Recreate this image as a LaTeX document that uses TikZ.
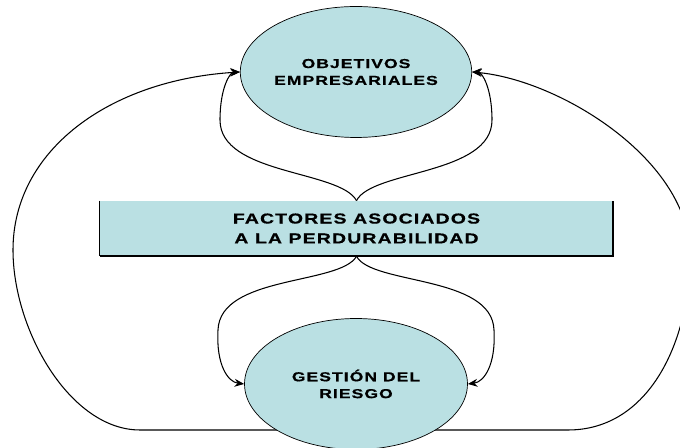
\documentclass[tikz,border=0pt]{standalone}
\usepackage{fontspec}
\newfontfamily\boxfont{Liberation Sans Bold}[FakeStretch=1.35,LetterSpace=8,FakeBold=0.6]
\usetikzlibrary{arrows.meta,backgrounds,shapes.geometric}
\definecolor{celeste}{RGB}{186,224,227}

\tikzset{
  goal/.style={ellipse,fill=celeste,draw=black,thin,minimum width=4.46cm,minimum height=2.62cm,
    align=center,inner sep=0pt,font=\boxfont\fontsize{7.4}{9.6}\selectfont},
  factor/.style={rectangle,fill=celeste,minimum width=10.26cm,minimum height=1.1cm,
    align=center,inner sep=0pt,font=\boxfont\fontsize{8.2}{11.3}\selectfont},
  link/.style={semithick,-{Stealth[length=5.5pt,width=4.5pt]}}
}

\begin{document}
\begin{tikzpicture}[x=0.02cm,y=-0.02cm]
\useasboundingbox (0,0) rectangle (680,448);

\node[goal](obj) at (356,72){OBJETIVOS\\EMPRESARIALES};
\node[factor](fac) at (356.5,228.5){FACTORES ASOCIADOS\\A LA PERDURABILIDAD};
\node[goal](ges) at (356,384){GESTI\'ON DEL\\RIESGO};

\draw[thin](fac.north west)--(fac.south west);
\draw[line width=1.1pt](fac.south west)--(fac.south east)--(fac.north east);

\coordinate (base) at (356,430);

\begin{scope}[on background layer]
%% outer loop
\draw[link](base)--(140,430) .. controls (70,430) and (13,330) .. (13,250)
  .. controls (13,150) and (110,80) .. (obj.west);
\draw[link](base)--(568,430) .. controls (650,430) and (690,340) .. (690,255)
  .. controls (690,160) and (560,80) .. (obj.east);

%% inner curves
\draw[link](fac.north) .. controls (340,170) and (220,175) .. (220,120)
  .. controls (220,88) and (230,72) .. (obj.west);
\draw[link](fac.north) .. controls (372,170) and (492,175) .. (492,120)
  .. controls (492,88) and (482,72) .. (obj.east);

\draw[link](fac.south) .. controls (340,285) and (220,275) .. (218,330)
  .. controls (216,365) and (228,382) .. (ges.west);
\draw[link](fac.south) .. controls (372,285) and (492,275) .. (494,330)
  .. controls (496,365) and (484,382) .. (ges.east);
\end{scope}
\end{tikzpicture}
\end{document}
